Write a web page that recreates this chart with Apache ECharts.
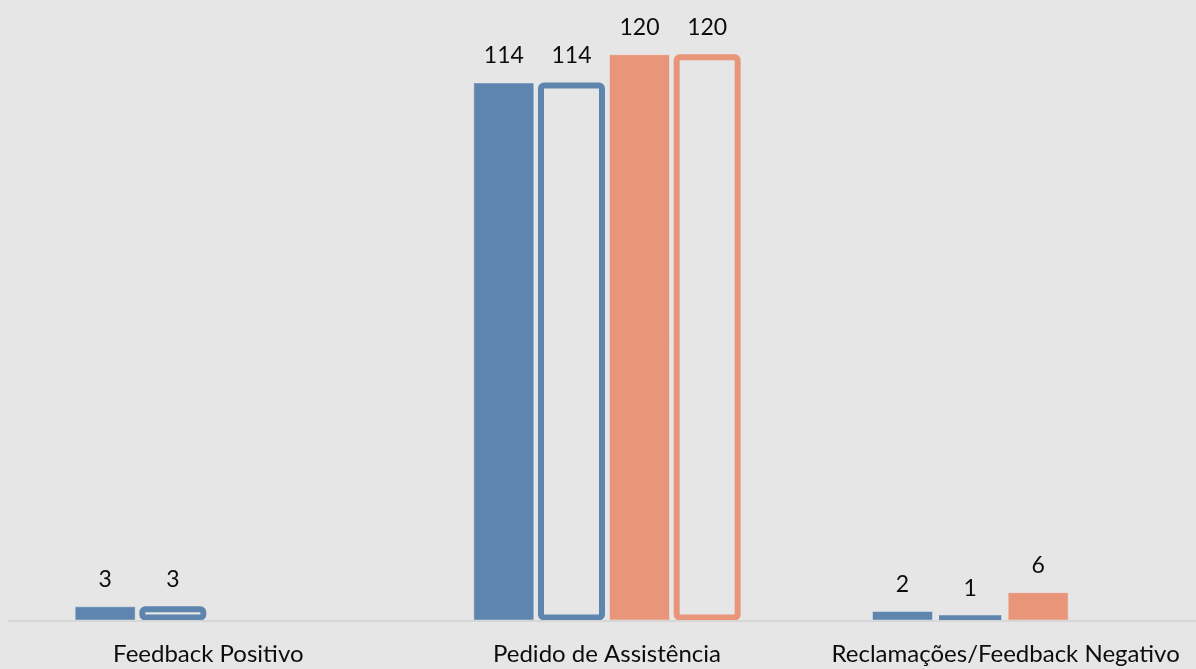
<!DOCTYPE html>
<html>
<head>
<meta charset="utf-8">
<title>Feedback</title>
<script src="https://cdn.jsdelivr.net/npm/echarts@6/dist/echarts.min.js"></script>
<style>
  html, body { margin: 0; padding: 0; background: #e6e6e6; overflow: hidden; }
  /* the plot runs slightly past the right edge of the window */
  #chart { width: 1210px; height: 669px; }
</style>
</head>
<body>
<div id="chart"></div>
<script>
// Categories and values per series
const categories = ['Feedback Positivo', 'Pedido de Assistência', 'Reclamações/Feedback Negativo'];
const blueFilled = [3, 114, 2];
const blueOutline = [3, 114, 1];
const salmonFilled = [null, 120, 6];
const salmonOutline = [null, 120, null];

const BLUE = '#5d85ad';
const SALMON = '#e8957a';
const FONT = 'Lato, "Open Sans", sans-serif';

const label = {
  show: true,
  position: 'top',
  distance: 15,
  color: '#0d0d0d',
  fontFamily: FONT,
  fontSize: 23
};

function filled(name, data, color) {
  return {
    name, type: 'bar', data,
    barWidth: 61, barGap: '6%',
    itemStyle: { color, borderColor: 'rgba(240,240,240,0.45)', borderWidth: 1 },
    label
  };
}

// hollow bars: the border is drawn inside the bar, so these are a little wider
function outlined(name, data, color) {
  return {
    name, type: 'bar', data,
    barWidth: 67, barGap: '6%',
    itemStyle: { color: 'rgba(0,0,0,0)', borderColor: color, borderWidth: 6, borderRadius: 3 },
    label
  };
}

const chart = echarts.init(document.getElementById('chart'), null, { renderer: 'canvas' });
chart.setOption({
  animation: false,
  backgroundColor: '#e6e6e6',
  grid: { left: 9, right: 5, top: 7, bottom: 48.5, containLabel: false },
  xAxis: {
    type: 'category',
    data: categories,
    z: 5,
    axisLine: { show: true, lineStyle: { color: '#d6d6d6', width: 2 } },
    axisTick: { show: false },
    axisLabel: { color: '#0d0d0d', fontFamily: FONT, fontSize: 24, margin: 22, interval: 0 }
  },
  yAxis: {
    type: 'value',
    min: 0,
    max: 130,
    show: false,
    splitLine: { show: false }
  },
  series: [
    filled('Série 1', blueFilled, BLUE),
    outlined('Série 2', blueOutline, BLUE),
    filled('Série 3', salmonFilled, SALMON),
    outlined('Série 4', salmonOutline, SALMON)
  ]
});
</script>
</body>
</html>
